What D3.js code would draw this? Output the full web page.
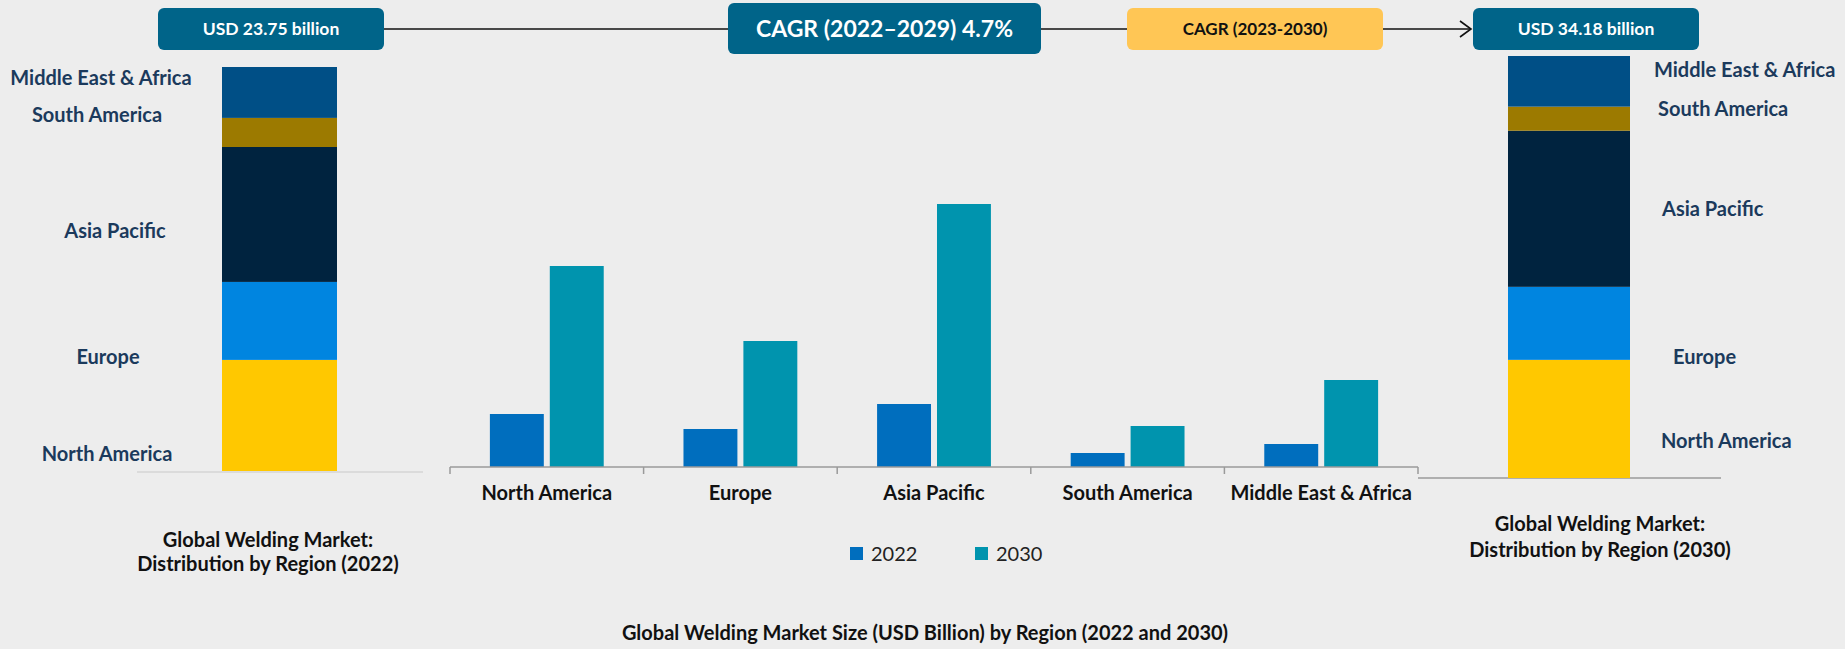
<!DOCTYPE html>
<html>
<head>
<meta charset="utf-8">
<script src="https://cdn.jsdelivr.net/npm/d3@7"></script>
<style>
  html, body { margin: 0; padding: 0; background: #ededed; }
  svg { display: block; font-family: Lato, "Open Sans", sans-serif; }
</style>
</head>
<body>
<svg width="1845" height="649"></svg>
<script>
// data
var regions = ["North America", "Europe", "Asia Pacific", "South America", "Middle East & Africa"];
var years = ["2022", "2030"];
var share2022 = [27.5, 19.3, 33.4, 7.2, 12.6];   // % of 23.75 bn
var share2030 = [28.0, 17.3, 37.0, 5.7, 12.0];   // % of 34.18 bn
var size2022 = [5.3, 3.8, 6.3, 1.4, 2.3];
var size2030 = [20.1, 12.6, 26.3, 4.1, 8.7];
var totalLabels = ["USD 23.75 billion", "USD 34.18 billion"];
var cagrLabels = ["CAGR (2022–2029) 4.7%", "CAGR (2023-2030)"];
var sideTitles = [["Global Welding Market:", "Distribution by Region (2022)"],
                  ["Global Welding Market:", "Distribution by Region (2030)"]];
var caption = "Global Welding Market Size (USD Billion) by Region (2022 and 2030)";

(() => {

var svg = d3.select("svg");

var regionColor = d3.scaleOrdinal()
    .domain(regions)
    .range(["#ffc800", "#0085e0", "#00233f", "#9c7a00", "#004f86"]);

var yearColor = d3.scaleOrdinal()
    .domain(years)
    .range(["#006ebe", "#0094ae"]);

var labelNavy = "#1b3a5c";

// ---- header boxes + connector line ----
var boxes = [
  {text: totalLabels[0], x: 158, y: 8, w: 226, h: 42, fill: "#006489", color: "#fff", size: 17.5},
  {text: cagrLabels[0], x: 728, y: 3, w: 313, h: 51, fill: "#006489", color: "#fff", size: 23},
  {text: cagrLabels[1], x: 1127, y: 8, w: 256, h: 42, fill: "#ffc655", color: "#111", size: 17},
  {text: totalLabels[1], x: 1473, y: 8, w: 226, h: 42, fill: "#006489", color: "#fff", size: 17.5}
];

svg.append("line")
    .attr("x1", 384).attr("x2", 1471)
    .attr("y1", 29).attr("y2", 29)
    .attr("stroke", "#111")
    .attr("stroke-width", 1.6);

svg.append("path")
    .attr("d", "M1460,21 L1471,29 L1460,37")
    .attr("fill", "none")
    .attr("stroke", "#111")
    .attr("stroke-width", 1.6);

var box = svg.append("g").selectAll("g")
  .data(boxes)
  .enter().append("g");

box.append("rect")
    .attr("x", d => d.x).attr("y", d => d.y)
    .attr("width", d => d.w).attr("height", d => d.h)
    .attr("rx", 6)
    .attr("fill", d => d.fill);

box.append("text")
    .attr("x", d => d.x + d.w / 2)
    .attr("y", d => d.y + d.h / 2)
    .attr("dy", "0.35em")
    .attr("text-anchor", "middle")
    .attr("font-weight", "bold")
    .attr("font-size", d => d.size)
    .attr("fill", d => d.color)
    .text(d => d.text);

// ---- stacked share bars on each side ----
function stackedBar(shares, opts) {
  var row = {};
  regions.forEach((r, i) => { row[r] = shares[i]; });
  var series = d3.stack().keys(regions)([row]);

  var y = d3.scaleLinear().domain([0, 100]).range([opts.bottom, opts.top]);

  var g = svg.append("g");

  g.append("line")
      .attr("x1", opts.lineX[0]).attr("x2", opts.lineX[1])
      .attr("y1", opts.lineY).attr("y2", opts.lineY)
      .attr("stroke", opts.lineColor)
      .attr("stroke-width", 1.5);

  g.selectAll("rect")
    .data(series)
    .enter().append("rect")
      .attr("x", opts.x)
      .attr("width", opts.w)
      .attr("y", d => y(d[0][1]))
      .attr("height", d => y(d[0][0]) - y(d[0][1]))
      .attr("fill", d => regionColor(d.key));

  g.selectAll("text.side")
    .data(regions)
    .enter().append("text")
      .attr("class", "side")
      .attr("x", (d, i) => opts.labelX[i])
      .attr("y", (d, i) => opts.labelY[i])
      .attr("dy", "0.35em")
      .attr("text-anchor", opts.anchor)
      .attr("font-weight", "bold")
      .attr("font-size", 20)
      .attr("fill", labelNavy)
      .text(d => d);

  g.selectAll("text.title")
    .data(opts.title)
    .enter().append("text")
      .attr("class", "title")
      .attr("x", opts.titleX)
      .attr("y", (d, i) => opts.titleY[i])
      .attr("dy", "0.35em")
      .attr("text-anchor", "middle")
      .attr("font-weight", "bold")
      .attr("font-size", 20)
      .attr("fill", "#111")
      .text(d => d);
}

stackedBar(share2022, {
  x: 222, w: 115, top: 67, bottom: 471,
  lineX: [137, 423], lineY: 472, lineColor: "#d4d4d4",
  anchor: "middle",
  labelX: [107, 108, 115, 97, 101],
  labelY: [454, 357, 231, 115, 78],
  title: sideTitles[0], titleX: 268, titleY: [540, 564]
});

stackedBar(share2030, {
  x: 1508, w: 122, top: 56, bottom: 478,
  lineX: [1418, 1721], lineY: 478, lineColor: "#9a9a9a",
  anchor: "start",
  labelX: [1661, 1673, 1662, 1658, 1654],
  labelY: [441, 357, 209, 109, 70],
  title: sideTitles[1], titleX: 1600, titleY: [524, 550]
});

// ---- clustered bars in the middle ----
var base = 467;

var x0 = d3.scaleBand()
    .domain(regions)
    .range([450, 1418]);

var x1 = d3.scaleBand()
    .domain(years)
    .range([x0.bandwidth() * 0.206, x0.bandwidth() * 0.794])
    .paddingInner(0.1);

var y = d3.scaleLinear()
    .domain([0, 30])
    .range([base, base - 300]);

var rows = regions.map((r, i) => ({region: r, values: [
  {year: years[0], value: size2022[i]},
  {year: years[1], value: size2030[i]}
]}));

var g = svg.append("g");

g.selectAll("g.grp")
  .data(rows)
  .enter().append("g")
    .attr("class", "grp")
    .attr("transform", d => "translate(" + x0(d.region) + ",0)")
  .selectAll("rect")
    .data(d => d.values)
    .enter().append("rect")
      .attr("x", d => x1(d.year))
      .attr("width", x1.bandwidth())
      .attr("y", d => y(d.value))
      .attr("height", d => y(0) - y(d.value))
      .attr("fill", d => yearColor(d.year));

// axis line with ticks on band edges
var edges = regions.map(r => x0(r)).concat([x0.range()[1]]);

g.append("line")
    .attr("x1", x0.range()[0]).attr("x2", x0.range()[1])
    .attr("y1", base).attr("y2", base)
    .attr("stroke", "#9a9a9a")
    .attr("stroke-width", 1.5);

g.selectAll("line.tick")
  .data(edges)
  .enter().append("line")
    .attr("class", "tick")
    .attr("x1", d => d).attr("x2", d => d)
    .attr("y1", base).attr("y2", base + 7)
    .attr("stroke", "#9a9a9a")
    .attr("stroke-width", 1.5);

var xAxis = g.append("g")
    .attr("transform", "translate(0," + base + ")")
    .call(d3.axisBottom(x0).tickSize(0).tickPadding(19));

xAxis.select(".domain").remove();
xAxis.selectAll("text")
    .attr("font-family", "Lato, sans-serif")
    .attr("font-size", 20)
    .attr("font-weight", "bold")
    .attr("fill", "#111");

// legend
var legend = svg.append("g")
  .selectAll("g")
  .data(years)
  .enter().append("g")
    .attr("transform", (d, i) => "translate(" + (850 + i * 125) + ",547)");

legend.append("rect")
    .attr("width", 13)
    .attr("height", 13)
    .attr("fill", yearColor);

legend.append("text")
    .attr("x", 21)
    .attr("y", 7)
    .attr("dy", "0.35em")
    .attr("font-size", 20)
    .attr("fill", "#222")
    .text(d => d);

// caption
svg.append("text")
    .attr("x", 925)
    .attr("y", 633)
    .attr("dy", "0.35em")
    .attr("text-anchor", "middle")
    .attr("font-weight", "bold")
    .attr("font-size", 20)
    .attr("fill", "#111")
    .text(caption);

})();
</script>
</body>
</html>
